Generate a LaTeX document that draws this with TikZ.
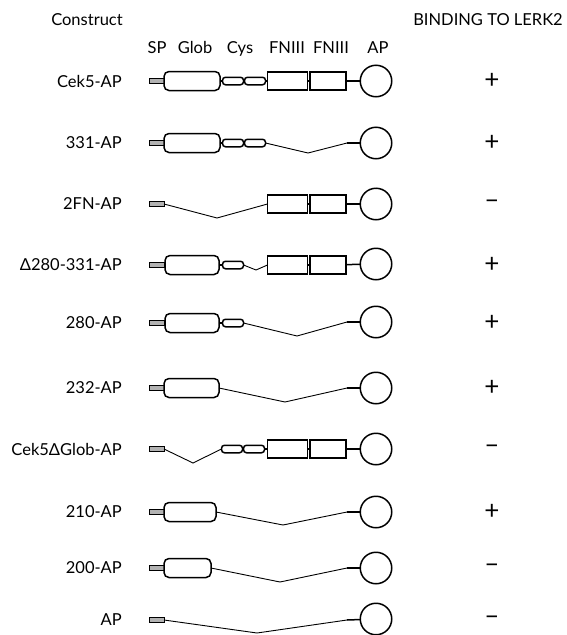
\documentclass[tikz,border=0pt]{standalone}
\usepackage{fontspec}
\setmainfont{Lato}
\tikzset{
  dom/.style={draw=black,line width=1.5pt,fill=white,inner sep=0pt,outer sep=0pt},
  sp/.style={draw=black,line width=.8pt,fill=black!30,minimum width=15pt,minimum height=4.5pt,inner sep=0pt,outer sep=0pt},
  glob/.style={dom,rounded corners=5pt,minimum height=19pt},
  cys/.style={dom,rounded corners=3pt,minimum width=21pt,minimum height=7.5pt},
  fnA/.style={dom,minimum width=40pt,minimum height=18pt},
  fnB/.style={dom,minimum width=36pt,minimum height=18pt},
  ap/.style={dom,circle,minimum size=31.5pt},
  link/.style={line width=1.5pt},
  gap/.style={line width=.9pt},
  txt/.style={font=\fontsize{16.5}{19}\selectfont,inner sep=0pt},
  colhead/.style={txt,anchor=base},
  cname/.style={txt,anchor=east},
  bind/.style={font=\fontsize{26}{28}\selectfont,inner sep=0pt}
}
\begin{document}
\begin{tikzpicture}[x=1pt,y=-1pt]
  \useasboundingbox (0,0) rectangle (567,635);
  % headers
  \node[txt] (hcon) at (87,20) {Construct};
  \node[txt] (hbind) at (488,20) {BINDING TO LERK2};
  \node[colhead] (hsp) at (157,53) {SP};
  \node[colhead] (hgl) at (195,53) {Glob};
  \node[colhead] (hcy) at (240,53) {Cys};
  \node[colhead] (hfa) at (287,53) {FNIII};
  \node[colhead] (hfb) at (331,53) {FNIII};
  \node[colhead] (hap) at (378,53) {AP};

  % Cek5-AP
  \node[cname] (lab1) at (122,81) {Cek5-AP};
  \node[sp] (sp1) at (156.5,81) {};
  \node[glob,minimum width=56pt] (gl1) at (192,81) {};
  \node[cys] (cyA1) at (233,81) {};
  \node[cys] (cyB1) at (255,81) {};
  \node[fnA] (fnA1) at (287.5,81) {};
  \node[fnB] (fnB1) at (328,81) {};
  \node[ap] (ap1) at (376,81) {};
  \draw[link] (gl1)--(cyA1);
  \draw[link] (cyB1)--(fnA1);
  \draw[link] (fnA1)--(fnB1);
  \draw[link] (fnB1)--(ap1);
  \node[bind] (bind1) at (492,81) {+};

  % 331-AP
  \node[cname] (lab2) at (122,143) {331-AP};
  \node[sp] (sp2) at (156.5,143) {};
  \node[glob,minimum width=56pt] (gl2) at (192,143) {};
  \node[cys] (cyA2) at (233,143) {};
  \node[cys] (cyB2) at (255,143) {};
  \coordinate (dip2) at (308,153);
  \coordinate (hg2) at (347,143);
  \node[ap] (ap2) at (376,143) {};
  \draw[link] (gl2)--(cyA2);
  \draw[gap] (cyB2.east)--(dip2)--(hg2);
  \draw[link] (hg2)--(ap2);
  \node[bind] (bind2) at (492,143) {+};

  % 2FN-AP
  \node[cname] (lab3) at (122,204) {2FN-AP};
  \node[sp] (sp3) at (156.5,204) {};
  \coordinate (dip3) at (217,218);
  \node[fnA] (fnA3) at (287.5,204) {};
  \node[fnB] (fnB3) at (328,204) {};
  \node[ap] (ap3) at (376,204) {};
  \draw[gap] (sp3.east)--(dip3)--(fnA3.west);
  \draw[link] (fnA3)--(fnB3);
  \draw[link] (fnB3)--(ap3);
  \node[bind] (bind3) at (492,204) {–};

  % Delta280-331-AP
  \node[cname] (lab4) at (122,265) {Δ280-331-AP};
  \node[sp] (sp4) at (156.5,265) {};
  \node[glob,minimum width=54pt] (gl4) at (192,265) {};
  \node[cys] (cyA4) at (233,265) {};
  \coordinate (dip4) at (256,270);
  \node[fnA] (fnA4) at (287.5,265) {};
  \node[fnB] (fnB4) at (328,265) {};
  \node[ap] (ap4) at (376,264) {};
  \draw[link] (gl4)--(cyA4);
  \draw[gap] (cyA4.east)--(dip4)--(fnA4.west);
  \draw[link] (fnA4)--(fnB4);
  \draw[link] (fnB4)--(ap4);
  \node[bind] (bind4) at (492,265) {+};

  % 280-AP
  \node[cname] (lab5) at (122,323) {280-AP};
  \node[sp] (sp5) at (156.5,323) {};
  \node[glob,minimum width=54pt] (gl5) at (192,323) {};
  \node[cys] (cyA5) at (233,323) {};
  \coordinate (dip5) at (297,336);
  \coordinate (hg5) at (347,322);
  \node[ap] (ap5) at (376,322) {};
  \draw[link] (gl5)--(cyA5);
  \draw[gap] (cyA5.east)--(dip5)--(hg5);
  \draw[link] (hg5)--(ap5);
  \node[bind] (bind5) at (492,323) {+};

  % 232-AP
  \node[cname] (lab6) at (122,388) {232-AP};
  \node[sp] (sp6) at (156.5,388) {};
  \node[glob,minimum width=55pt] (gl6) at (191.5,388) {};
  \coordinate (dip6) at (285,402);
  \coordinate (hg6) at (347,388);
  \node[ap] (ap6) at (376,388) {};
  \draw[gap] (gl6.east)--(dip6)--(hg6);
  \draw[link] (hg6)--(ap6);
  \node[bind] (bind6) at (492,388) {+};

  % Cek5DeltaGlob-AP
  \node[cname] (lab7) at (122,449) {Cek5ΔGlob-AP};
  \node[sp] (sp7) at (156.5,449) {};
  \coordinate (dip7) at (193,463);
  \node[cys] (cyA7) at (232,449) {};
  \node[cys] (cyB7) at (254,449) {};
  \node[fnA] (fnA7) at (287.5,449) {};
  \node[fnB] (fnB7) at (328,449) {};
  \node[ap] (ap7) at (376,449) {};
  \draw[gap] (sp7.east)--(dip7)--(cyA7.west);
  \draw[link] (cyB7)--(fnA7);
  \draw[link] (fnA7)--(fnB7);
  \draw[link] (fnB7)--(ap7);
  \node[bind] (bind7) at (492,449) {–};

  % 210-AP
  \node[cname] (lab8) at (122,512) {210-AP};
  \node[sp] (sp8) at (156.5,512) {};
  \node[glob,minimum width=52pt] (gl8) at (190,512) {};
  \coordinate (dip8) at (283,525);
  \coordinate (hg8) at (347,512);
  \node[ap] (ap8) at (376,512) {};
  \draw[gap] (gl8.east)--(dip8)--(hg8);
  \draw[link] (hg8)--(ap8);
  \node[bind] (bind8) at (492,512) {+};

  % 200-AP
  \node[cname] (lab9) at (122,568) {200-AP};
  \node[sp] (sp9) at (156.5,568) {};
  \node[glob,minimum width=47pt] (gl9) at (187.5,568) {};
  \coordinate (dip9) at (280,582);
  \coordinate (hg9) at (347,568);
  \node[ap] (ap9) at (376,568) {};
  \draw[gap] (gl9.east)--(dip9)--(hg9);
  \draw[link] (hg9)--(ap9);
  \node[bind] (bind9) at (492,568) {–};

  % AP
  \node[cname] (lab10) at (122,620) {AP};
  \node[sp] (sp10) at (156.5,620) {};
  \coordinate (dip10) at (257,633);
  \coordinate (hg10) at (347,620);
  \node[ap] (ap10) at (376,619) {};
  \draw[gap] (sp10.east)--(dip10)--(hg10);
  \draw[link] (hg10)--(ap10);
  \node[bind] (bind10) at (492,620) {–};
\end{tikzpicture}
\end{document}
